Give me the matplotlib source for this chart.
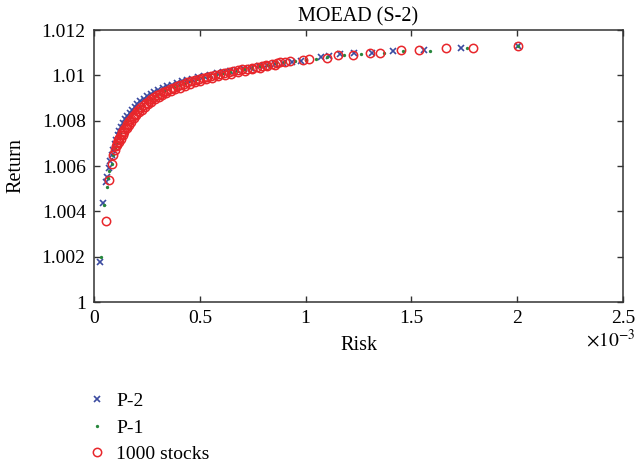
import numpy as np
import matplotlib
matplotlib.use("Agg")
import matplotlib.pyplot as plt
from matplotlib.ticker import FuncFormatter

plt.rcParams["font.family"] = ["Liberation Serif", "DejaVu Serif"]
plt.rcParams["mathtext.fontset"] = "stix"

# Risk values in units of 1e-3, returns as plain numbers
p2_risk = [0.028, 0.041, 0.057, 0.063, 0.070, 0.077, 0.083, 0.090, 0.097, 0.104,
           0.112, 0.120, 0.129, 0.138, 0.148, 0.158, 0.169, 0.180, 0.192, 0.205,
           0.219, 0.234, 0.250, 0.267, 0.285, 0.304, 0.324, 0.345, 0.367, 0.390,
           0.414, 0.439, 0.465, 0.492, 0.520, 0.549, 0.579, 0.610, 0.642, 0.675,
           0.709, 0.744, 0.780, 0.817, 0.855, 0.894, 0.935, 0.977, 1.073, 1.112,
           1.163, 1.227, 1.314, 1.415, 1.560, 1.736, 2.005]
p2_return = [1.00178, 1.00438, 1.00531, 1.00552, 1.00590, 1.00622, 1.00648, 1.00672,
             1.00695, 1.00716, 1.00736, 1.00755, 1.00773, 1.00790, 1.00806, 1.00821,
             1.00836, 1.00849, 1.00862, 1.00874, 1.00886, 1.00897, 1.00907, 1.00917,
             1.00926, 1.00935, 1.00943, 1.00951, 1.00959, 1.00966, 1.00973, 1.00980,
             1.00986, 1.00992, 1.00998, 1.01003, 1.01009, 1.01014, 1.01019, 1.01024,
             1.01029, 1.01034, 1.01039, 1.01044, 1.01049, 1.01054, 1.01058, 1.01063,
             1.01080, 1.01086, 1.01092, 1.01097, 1.01100, 1.01109, 1.01110, 1.01119,
             1.01129]

p1_risk = [0.032, 0.049, 0.060, 0.068, 0.073, 0.084, 0.091, 0.099, 0.107, 0.116,
           0.125, 0.135, 0.146, 0.158, 0.171, 0.185, 0.200, 0.216, 0.233, 0.251,
           0.270, 0.290, 0.311, 0.333, 0.356, 0.380, 0.405, 0.431, 0.458, 0.486,
           0.515, 0.545, 0.576, 0.608, 0.641, 0.675, 0.710, 0.746, 0.783, 0.821,
           0.860, 0.900, 0.950, 1.000, 1.048, 1.100, 1.183, 1.261, 1.370, 1.460,
           1.588, 1.761, 2.005]
p1_return = [1.00200, 1.00428, 1.00509, 1.00546, 1.00578, 1.00610, 1.00650, 1.00680,
             1.00705, 1.00728, 1.00748, 1.00767, 1.00785, 1.00802, 1.00818, 1.00833,
             1.00845, 1.00857, 1.00869, 1.00881, 1.00895, 1.00908, 1.00919, 1.00929,
             1.00939, 1.00949, 1.00958, 1.00966, 1.00974, 1.00982, 1.00990, 1.00997,
             1.01003, 1.01009, 1.01015, 1.01021, 1.01028, 1.01034, 1.01040, 1.01046,
             1.01053, 1.01059, 1.01064, 1.01068, 1.01070, 1.01080, 1.01088, 1.01092,
             1.01100, 1.01109, 1.01109, 1.01119, 1.01129]

stocks_risk = [0.055, 0.072, 0.084, 0.091, 0.098, 0.102, 0.108, 0.114, 0.120, 0.127,
               0.134, 0.141, 0.149, 0.157, 0.165, 0.174, 0.183, 0.192, 0.202, 0.212,
               0.223, 0.234, 0.246, 0.258, 0.271, 0.284, 0.298, 0.312, 0.327, 0.342,
               0.358, 0.374, 0.390, 0.407, 0.424, 0.441, 0.459, 0.477, 0.496, 0.515,
               0.534, 0.554, 0.574, 0.594, 0.615, 0.636, 0.657, 0.679, 0.701, 0.723,
               0.746, 0.769, 0.792, 0.815, 0.839, 0.863, 0.879, 0.901, 0.928, 0.989,
               1.015, 1.103, 1.152, 1.222, 1.304, 1.353, 1.449, 1.536, 1.663, 1.790,
               2.005,
               # lower edge of the dense band
               0.110, 0.118, 0.126, 0.135, 0.144, 0.154, 0.164, 0.175, 0.187, 0.199,
               0.212, 0.226, 0.240, 0.255, 0.271, 0.288, 0.305, 0.323, 0.342, 0.362,
               0.383, 0.405, 0.428, 0.452, 0.477, 0.503, 0.530, 0.558, 0.587, 0.617,
               0.648, 0.680, 0.713, 0.747, 0.782, 0.818, 0.855]
stocks_return = [1.00357, 1.00538, 1.00607, 1.00647, 1.00672, 1.00688, 1.00702, 1.00714,
                 1.00725, 1.00738, 1.00750, 1.00762, 1.00774, 1.00786, 1.00797, 1.00808,
                 1.00820, 1.00830, 1.00841, 1.00851, 1.00860, 1.00869, 1.00879, 1.00887,
                 1.00896, 1.00904, 1.00912, 1.00919, 1.00926, 1.00933, 1.00940, 1.00946,
                 1.00952, 1.00958, 1.00963, 1.00969, 1.00974, 1.00979, 1.00984, 1.00989,
                 1.00993, 1.00998, 1.01002, 1.01006, 1.01010, 1.01014, 1.01018, 1.01022,
                 1.01026, 1.01030, 1.01034, 1.01038, 1.01042, 1.01046, 1.01050, 1.01054,
                 1.01057, 1.01060, 1.01063, 1.01066, 1.01074, 1.01076, 1.01088, 1.01090,
                 1.01097, 1.01100, 1.01110, 1.01110, 1.01120, 1.01119, 1.01129,
                 1.00691, 1.00706, 1.00721, 1.00737, 1.00751, 1.00766, 1.00781, 1.00795,
                 1.00810, 1.00824, 1.00837, 1.00849, 1.00861, 1.00872, 1.00883, 1.00894,
                 1.00904, 1.00913, 1.00922, 1.00930, 1.00938, 1.00946, 1.00954, 1.00962,
                 1.00969, 1.00976, 1.00983, 1.00990, 1.00996, 1.01002, 1.01008, 1.01014,
                 1.01020, 1.01026, 1.01033, 1.01039, 1.01046]

x_ticks = [0, 0.5, 1, 1.5, 2, 2.5]
y_ticks = [1, 1.002, 1.004, 1.006, 1.008, 1.01, 1.012]

fig = plt.figure(figsize=(6.37, 4.63), dpi=100)
ax = fig.add_axes([0.1476, 0.3477, 0.8305, 0.5875])

ax.plot(p2_risk, p2_return, linestyle="none", marker="x", markersize=4.2,
        markeredgewidth=1.2, color="#3b4ba0", label="P-2")
ax.plot(p1_risk, p1_return, linestyle="none", marker="o", markersize=2.4,
        markeredgewidth=0, color="#27873c", label="P-1")
ax.plot(stocks_risk, stocks_return, linestyle="none", marker="o", markersize=6.0,
        markerfacecolor="none", markeredgewidth=1.1, color="#e8262b", label="1000 stocks")

ax.set_xlim(0, 2.5)
ax.set_ylim(1, 1.012)
ax.set_xticks(x_ticks)
ax.set_yticks(y_ticks)
fmt = FuncFormatter(lambda v, pos: f"{v:g}")
ax.xaxis.set_major_formatter(fmt)
ax.yaxis.set_major_formatter(fmt)
ax.tick_params(direction="in", length=4, width=1.0, labelsize=14, pad=6,
               top=True, right=True, color="#333333")
for s in ax.spines.values():
    s.set_color("#333333")
    s.set_linewidth(1.1)

ax.set_title("MOEAD (S-2)", fontsize=14.5, pad=6)
ax.set_xlabel("Risk", fontsize=14.5, labelpad=6)
ax.set_ylabel("Return", fontsize=14.5)
ax.yaxis.set_label_coords(-0.13, 0.5)
fig.text(0.997, 0.251, r"$\times 10^{-3}$", ha="right", va="baseline", fontsize=14)

fig.legend(loc="upper left", bbox_to_anchor=(0.137, 0.152), frameon=False,
           fontsize=14, handlelength=1.0, handletextpad=0.5, labelspacing=0.45,
           borderpad=0, borderaxespad=0)

fig.savefig("out.png", dpi=100)
